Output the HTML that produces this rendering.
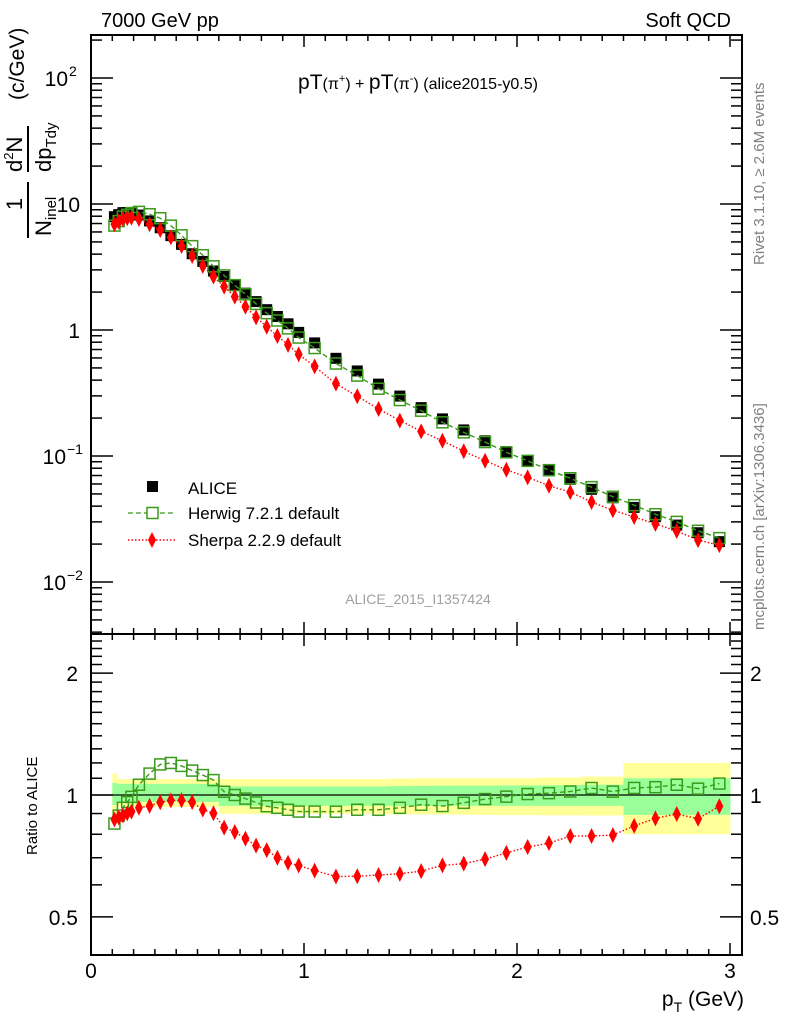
<!DOCTYPE html>
<html><head><meta charset="utf-8"><style>
body{margin:0;background:#fff}
svg{display:block;font-family:"Liberation Sans",Arial,sans-serif}
</style></head><body>
<svg id="chart" width="786" height="1024" viewBox="0 0 786 1024" xmlns="http://www.w3.org/2000/svg">
<rect x="0" y="0" width="786" height="1024" fill="#fff"/>
<g id="bands"></g>
<g id="marks"></g>
<g id="axes"></g>
<text x="101" y="27" font-size="20">7000 GeV pp</text>
<text x="731" y="27" font-size="20" text-anchor="end">Soft QCD</text>
<text x="418" y="89" text-anchor="middle" font-size="16"><tspan font-size="21">pT</tspan>(π<tspan font-size="11" dy="-7">+</tspan><tspan dy="7">) + </tspan><tspan font-size="21">pT</tspan>(π<tspan font-size="11" dy="-7">-</tspan><tspan dy="7">) (alice2015-y0.5)</tspan></text>
<text x="418" y="604" text-anchor="middle" font-size="14" fill="#a0a0a0">ALICE_2015_I1357424</text>
<text transform="translate(764,265) rotate(-90)" font-size="15" fill="#808080">Rivet 3.1.10, ≥ 2.6M events</text>
<text transform="translate(764,630) rotate(-90)" font-size="15" fill="#808080">mcplots.cern.ch [arXiv:1306.3436]</text>
<g transform="rotate(-90)">
  <text x="-204" y="22" font-size="22" text-anchor="middle">1</text>
  <line x1="-238" y1="28" x2="-182" y2="28" stroke="#000" stroke-width="2"/>
  <text x="-236" y="51" font-size="22">N<tspan font-size="15" dy="5">inel</tspan></text>
  <text x="-172" y="22" font-size="22">d<tspan font-size="13" dy="-9">2</tspan><tspan dy="9">N</tspan></text>
  <line x1="-172" y1="28" x2="-126" y2="28" stroke="#000" stroke-width="2"/>
  <text x="-172" y="51" font-size="22">dp<tspan font-size="15" dy="5">Tdy</tspan></text>
  <text x="-100" y="24" font-size="21">(c/GeV)</text>
</g>
<text transform="translate(37,855) rotate(-90)" font-size="15">Ratio to ALICE</text>
<text x="744" y="1006" text-anchor="end" font-size="21">p<tspan font-size="14" dy="6">T</tspan><tspan dy="-6"> (GeV)</tspan></text>
<g>
  <rect x="147" y="481" width="11" height="11" fill="#000"/>
  <text x="188" y="494" font-size="17">ALICE</text>
  <line x1="128" y1="513" x2="176" y2="513" stroke="#3a9a1a" stroke-width="1.3" stroke-dasharray="5,3"/>
  <rect x="147" y="507.5" width="11" height="11" fill="#fff" stroke="#3a9a1a" stroke-width="1.5"/>
  <text x="188" y="519" font-size="17">Herwig 7.2.1 default</text>
  <line x1="128" y1="540" x2="176" y2="540" stroke="#f00" stroke-width="1.5" stroke-dasharray="1.5,2"/>
  <polygon points="152,532 156,540 152,548 148,540" fill="#f00"/>
  <text x="188" y="546" font-size="17">Sherpa 2.2.9 default</text>
</g>
</svg>
<script>
const pT = [0.11,0.13,0.15,0.17,0.19,0.225,0.275,0.325,0.375,0.425,0.475,0.525,0.575,0.625,0.675,0.725,0.775,0.825,0.875,0.925,0.975,1.05,1.15,1.25,1.35,1.45,1.55,1.65,1.75,1.85,1.95,2.05,2.15,2.25,2.35,2.45,2.55,2.65,2.75,2.85,2.95];
const binLo = [0.10,0.12,0.14,0.16,0.18,0.20,0.25,0.30,0.35,0.40,0.45,0.50,0.55,0.60,0.65,0.70,0.75,0.80,0.85,0.90,0.95,1.0,1.1,1.2,1.3,1.4,1.5,1.6,1.7,1.8,1.9,2.0,2.1,2.2,2.3,2.4,2.5,2.6,2.7,2.8,2.9];
const binHi = [0.12,0.14,0.16,0.18,0.20,0.25,0.30,0.35,0.40,0.45,0.50,0.55,0.60,0.65,0.70,0.75,0.80,0.85,0.90,0.95,1.0,1.1,1.2,1.3,1.4,1.5,1.6,1.7,1.8,1.9,2.0,2.1,2.2,2.3,2.4,2.5,2.6,2.7,2.8,2.9,3.0];
const alice = [7.93,8.23,8.54,8.55,8.56,8.17,7.34,6.48,5.61,4.78,4.03,3.50,2.94,2.66,2.27,1.96,1.68,1.45,1.28,1.12,0.957,0.79,0.596,0.473,0.372,0.299,0.242,0.197,0.161,0.132,0.108,0.091,0.0764,0.0653,0.0544,0.0466,0.0391,0.033,0.0283,0.0246,0.0209];
const herwig = [6.74,7.32,7.94,8.21,8.47,8.66,8.29,7.71,6.73,5.64,4.63,3.92,3.20,2.71,2.27,1.92,1.61,1.36,1.19,1.03,0.871,0.719,0.542,0.435,0.342,0.278,0.229,0.185,0.154,0.129,0.107,0.0915,0.0772,0.0666,0.0566,0.0475,0.0407,0.0345,0.0300,0.0255,0.0223];
const sherpa = [6.90,7.24,7.60,7.70,7.79,7.60,6.90,6.22,5.44,4.64,3.87,3.22,2.65,2.21,1.84,1.53,1.26,1.06,0.896,0.762,0.641,0.514,0.375,0.298,0.236,0.191,0.157,0.132,0.109,0.0917,0.0777,0.0677,0.0581,0.0517,0.0431,0.0371,0.0328,0.0289,0.0254,0.0215,0.0196];
const yellowHi = [1.13,1.095,1.095,1.095,1.095,1.095,1.095,1.095,1.095,1.095,1.095,1.095,1.095,1.095,1.095,1.095,1.095,1.095,1.095,1.095,1.095,1.095,1.095,1.095,1.095,1.098,1.1,1.1,1.1,1.1,1.1,1.1,1.105,1.105,1.11,1.11,1.2,1.2,1.2,1.2,1.2];
const yellowLo = [0.88,0.934,0.934,0.934,0.934,0.934,0.934,0.934,0.934,0.934,0.934,0.934,0.934,0.898,0.898,0.898,0.898,0.898,0.898,0.898,0.898,0.898,0.898,0.898,0.898,0.896,0.895,0.895,0.894,0.893,0.892,0.892,0.891,0.891,0.89,0.89,0.80,0.80,0.80,0.80,0.80];
const greenHi = [1.07,1.065,1.065,1.065,1.065,1.065,1.065,1.065,1.065,1.065,1.065,1.065,1.065,1.05,1.05,1.05,1.05,1.05,1.05,1.05,1.05,1.05,1.05,1.05,1.05,1.052,1.053,1.054,1.055,1.055,1.056,1.056,1.057,1.058,1.06,1.06,1.10,1.10,1.10,1.10,1.10];
const greenLo = [0.945,0.961,0.961,0.961,0.961,0.961,0.961,0.961,0.961,0.961,0.961,0.961,0.961,0.94,0.94,0.94,0.94,0.94,0.94,0.94,0.94,0.94,0.94,0.94,0.94,0.94,0.94,0.94,0.94,0.94,0.94,0.94,0.94,0.94,0.94,0.94,0.893,0.893,0.893,0.893,0.893];
const xTicks = [0,1,2,3];
const mainTicks = [-2,-1,0,1,2];
const ratioTicks = [0.5,1,2];

const NS='http://www.w3.org/2000/svg';
const L=91,R=742,T=35,M=634,B=955;
const X=v=>L+213*v;
const Ym=v=>330-126*Math.log10(v);
const Yr=v=>795-405*Math.log10(v);
function mk(tag,attrs,parent){const e=document.createElementNS(NS,tag);for(const k in attrs)e.setAttribute(k,attrs[k]);parent.appendChild(e);return e;}
const bands=document.getElementById('bands'), marks=document.getElementById('marks'), axes=document.getElementById('axes');

pT.forEach((p,i)=>{
  const y=mk('rect',{x:X(binLo[i]),y:Yr(yellowHi[i]),width:X(binHi[i])-X(binLo[i])+0.5,height:Yr(yellowLo[i])-Yr(yellowHi[i]),fill:'#ffff99'},bands);
  
  
});
pT.forEach((p,i)=>{
  const g=mk('rect',{x:X(binLo[i]),y:Yr(greenHi[i]),width:X(binHi[i])-X(binLo[i])+0.5,height:Yr(greenLo[i])-Yr(greenHi[i]),fill:'#99ff99'},bands);
  
  
});
mk('line',{x1:L,y1:Yr(1),x2:R,y2:Yr(1),stroke:'#000','stroke-width':1.3},bands);

pT.forEach((p,i)=>{
  const s=mk('rect',{x:X(p)-5.5,y:Ym(alice[i])-5.5,width:11,height:11,fill:'#000'},marks);
  
  
});
function series(vals,fn,color,dash,marker,name){
  const pts=pT.map((p,i)=>X(p)+','+fn(vals[i],i)).join(' ');
  const pl=mk('polyline',{points:pts,fill:'none',stroke:color,'stroke-width':1.4,'stroke-dasharray':dash},marks);
  
  
  pT.forEach((p,i)=>{
    const x=X(p),y=fn(vals[i],i);let m;
    if(marker==='sq') m=mk('rect',{x:x-5.5,y:y-5.5,width:11,height:11,fill:'none',stroke:color,'stroke-width':1.5},marks);
    else m=mk('polygon',{points:`${x},${y-8} ${x+4},${y} ${x},${y+8} ${x-4},${y}`,fill:color},marks);
    
    
  });
}
series(herwig,v=>Ym(v),'#3a9a1a','5,3','sq','herwig');
series(sherpa,v=>Ym(v),'#f00','1.5,2','dia','sherpa');
series(herwig,(v,i)=>Yr(v/alice[i]),'#3a9a1a','5,3','sq','herwig-ratio');
series(sherpa,(v,i)=>Yr(v/alice[i]),'#f00','1.5,2','dia','sherpa-ratio');

mk('rect',{x:L,y:T,width:R-L,height:M-T,fill:'none',stroke:'#000','stroke-width':2},axes);
mk('rect',{x:L,y:M,width:R-L,height:B-M,fill:'none',stroke:'#000','stroke-width':2},axes);
for(let k=0;k<=30;k++){
  const v=k/10;const x=X(v);if(x>R)break;const len=(k%10===0)?12:6;
  [[M,-1],[M,1],[B,-1],[T,1]].forEach(([y0,d])=>mk('line',{x1:x,y1:y0,x2:x,y2:y0+d*len,stroke:'#000','stroke-width':1.5},axes));
}
xTicks.forEach(v=>{const t=mk('text',{x:X(v),y:978,'font-size':21,'text-anchor':'middle'},axes);t.textContent=v;
  
  });
for(let e=-3;e<=2;e++){for(let m=1;m<10;m++){const v=m*Math.pow(10,e);const y=Ym(v);if(y<T||y>M)continue;const len=m===1?22:11;
  mk('line',{x1:L,y1:y,x2:L+len,y2:y,stroke:'#000','stroke-width':1.5},axes);
  mk('line',{x1:R,y1:y,x2:R-len,y2:y,stroke:'#000','stroke-width':1.5},axes);}}
mainTicks.forEach(e=>{const y=Ym(Math.pow(10,e));let t;
  if(e===0){t=mk('text',{x:80,y:y+8,'font-size':21,'text-anchor':'end'},axes);t.textContent='1';}
  else if(e===1){t=mk('text',{x:80,y:y+8,'font-size':21,'text-anchor':'end'},axes);t.textContent='10';}
  else{t=mk('text',{x:e<0?66:68,y:y+8,'font-size':21,'text-anchor':'end'},axes);t.textContent='10';
    const s=mk('text',{x:e<0?67:69,y:y-2,'font-size':14},axes);s.textContent=e<0?'−'+(-e):''+e;}
  
  });
const rt=[0.5,0.6,0.7,0.8,0.9,1,1.1,1.2,1.3,1.4,1.5,1.6,1.7,1.8,1.9,2,2.1,2.2,2.3,2.4];
rt.forEach(v=>{const y=Yr(v);const len=(v===0.5||v===1||v===2)?22:11;
  mk('line',{x1:L,y1:y,x2:L+len,y2:y,stroke:'#000','stroke-width':1.5},axes);
  mk('line',{x1:R,y1:y,x2:R-len,y2:y,stroke:'#000','stroke-width':1.5},axes);});
ratioTicks.forEach(v=>{const y=Yr(v);
  const t=mk('text',{x:78,y:y+8,'font-size':21,'text-anchor':'end'},axes);t.textContent=v;
  
  
  const t2=mk('text',{x:750,y:y+8,'font-size':21},axes);t2.textContent=v;
  
  });
</script>
</body></html>
